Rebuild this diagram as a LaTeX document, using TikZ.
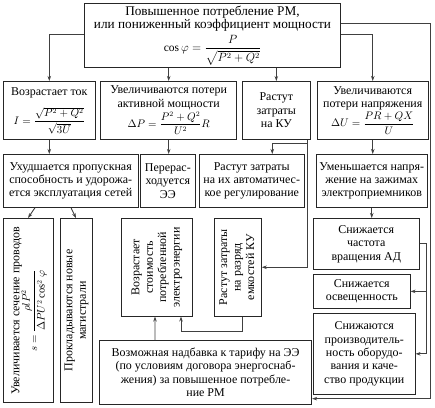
\documentclass[tikz,border=0pt]{standalone}
\usepackage{amsmath}
\usepackage{fontspec}
\setmainfont{Liberation Serif}
\usetikzlibrary{arrows.meta}
\begin{document}
\begin{tikzpicture}[x=1bp,y=-1bp,
  box/.style={draw=black!85, line width=0.9bp, rectangle, inner sep=1bp, align=center,
    font=\fontsize{12}{13.5}\selectfont, anchor=north west},
  conn/.style={draw=black!75, line width=0.9bp, -{Stealth[length=5bp,width=3.5bp]}},
  plain/.style={draw=black!75, line width=0.9bp}
]
\newcommand\fm[1]{{\fontsize{10.5}{12}\selectfont$\displaystyle #1$}}
\newcommand\fmbig[1]{{\fontsize{11.5}{12}\selectfont$\displaystyle #1$}}
\useasboundingbox (0,0) rectangle (435,407);
% row 1
\node[box, minimum width=257, minimum height=64, font=\fontsize{13.3}{13.5}\selectfont] (T) at (84,3)
  {Повышенное потребление РМ,\\ или пониженный коэффициент мощности\\[3bp]
   \fmbig{\cos\varphi=\frac{P}{\sqrt{P^2+Q^2}}}};
% row 2
\node[box, minimum width=92, minimum height=58] (A) at (3,81)
  {\begin{tabular}{@{}c@{}}Возрастает ток\\[8bp]
   \fm{I=\frac{\sqrt{P^2+Q^2}\rule[-3bp]{0pt}{3bp}}{\rule{0pt}{10bp}\sqrt{3U}}}\end{tabular}};
\node[box, minimum width=137, minimum height=58] (B) at (100,81)
  {Увеличиваются потери\\ активной мощности\\[1bp] \fm{\Delta P=\frac{P^2+Q^2}{U^2}R}};
\node[box, minimum width=68, minimum height=58] (C) at (242,81)
  {Растут\\ затраты\\ на КУ};
\node[box, minimum width=111, minimum height=58] (D) at (317,81)
  {Увеличиваются\\ потери напряжения\\[1bp] \fm{\Delta U=\frac{PR+QX}{U}}};
% row 3
\node[box, minimum width=135, minimum height=53] (E) at (3,154)
  {Ухудшается пропускная\\ способность и удорожа-\\ ется эксплуатация сетей};
\node[box, minimum width=55, minimum height=53] (F) at (140,154)
  {Перерас-\\ ходуется\\ ЭЭ};
\node[box, minimum width=105, minimum height=53] (G) at (199,154)
  {Растут затраты\\ на их автоматичес-\\ кое регулирование};
\node[box, minimum width=111, minimum height=53] (H) at (316,154)
  {Уменьшается напря-\\ жение на зажимах\\ электроприемников};
% vertical boxes
\node[box, minimum width=50, minimum height=185] (K) at (3,218)
  {\rotatebox{90}{\begin{tabular}{@{}c@{}}Увеличивается сечение проводов\\[-2bp]
   \fm{s=\frac{\rho l P^2}{\Delta P U^2\cos^2\varphi}}\end{tabular}}};
\node[box, minimum width=32, minimum height=185] (L) at (60,218)
  {\rotatebox{90}{\begin{tabular}{@{}c@{}}Прокладываются новые\\ магистрали\end{tabular}}};
\node[box, minimum width=71, minimum height=98] (M) at (121,218)
  {\rotatebox{90}{\begin{tabular}{@{}c@{}}Возрастает\\ стоимость\\ потребленной\\ электроэнергии\end{tabular}}};
\node[box, minimum width=47, minimum height=98] (J) at (214,218)
  {\rotatebox{90}{\begin{tabular}{@{}c@{}}Растут затраты\\ на разряд\\ емкостей КУ\end{tabular}}};
% bottom box
\node[box, minimum width=213, minimum height=64] (N) at (99,340)
  {Возможная надбавка к тарифу на ЭЭ\\ (по условиям договора энергоснаб-\\ жения) за повышенное потребле-\\ ние РМ};
% right column
\node[box, minimum width=106, minimum height=51] (P) at (313,218)
  {Снижается\\ частота\\ вращения АД};
\node[box, minimum width=97, minimum height=34] (Q) at (313,274)
  {Снижается\\ освещенность};
\node[box, minimum width=102, minimum height=81] (R) at (313,313)
  {Снижаются\\ производитель-\\ ность оборудо-\\ вания и каче-\\ ство продукции};
% connectors
\draw[conn] ([yshift=-31bp]T.north west) -| (A.north);
\draw[conn] ([yshift=-31bp]T.north east) -| (D.north);
\draw[conn] ([yshift=-20bp]T.north east) -- ++(89,0) |- ([yshift=6bp]N.south east);
\draw[conn] (B.north |- T.south) -- (B.north);
\draw[conn] (C.north |- T.south) -- (C.north);
\draw[conn] (A.south) -- (A.south |- E.north);
\draw[conn] (B.south) -- (B.south |- F.north);
\coordinate (c1) at ([xshift=-3bp,yshift=-4bp]C.south east);
\draw[conn] ([xshift=-3bp]C.south east) -- (c1) -| ([xshift=20.5bp]G.north);
\draw[conn] (c1) |- (J.east);
\draw[conn] (D.south) -- (D.south |- H.north);
\draw[conn] ([xshift=32bp]E.south west) -- ([xshift=25bp]K.north west);
\draw[conn] ([xshift=68bp]E.south west) -- ([xshift=16bp]L.north west);
\draw[conn] (H.south) -- (H.south |- P.north);
\draw[conn] (P.east) -- ++(7,0) |- (R.east);
\draw[conn] ([xshift=7bp]P.east) |- (Q.east);
\draw[conn] ([xshift=56bp]N.north west) -- ([xshift=34bp]M.south west);
\draw[conn] ([xshift=28bp]J.south west) -- ++(0,15) -| ([xshift=60bp]M.south west);
\end{tikzpicture}
\end{document}
